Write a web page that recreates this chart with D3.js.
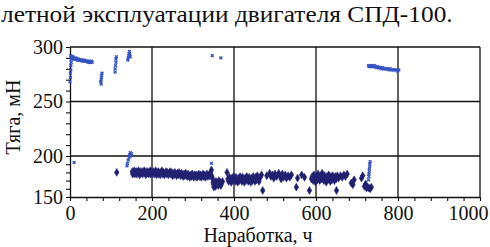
<!DOCTYPE html>
<html>
<head>
<meta charset="utf-8">
<script src="https://cdn.jsdelivr.net/npm/d3@7"></script>
<style>
  body { margin: 0; background: #fff; }
</style>
</head>
<body>
<script>
// tick values
const xTicks = [0, 200, 400, 600, 800, 1000];
const yTicks = [150, 200, 250, 300];

// light blue crosses: [hours, thrust mN]
const blueMarks = [
    [0, 268], [1, 272], [1, 276], [2, 279], [2, 283], [3, 286], [3, 289], [4, 291], [2, 292],
    [5, 290], [6, 290], [7, 291], [8, 290], [9, 290], [10, 289], [12, 289], [13, 290], [14, 289],
    [16, 289], [17, 289], [18, 288], [20, 289], [21, 288], [23, 288], [24, 288], [26, 288],
    [27, 288], [29, 288], [30, 287], [32, 288], [34, 287], [35, 288], [37, 287], [39, 287],
    [40, 287], [42, 287], [44, 286], [46, 287], [48, 286], [50, 286], [52, 287], [54, 286],
    [10, 192],
    [75, 268], [76, 270], [77, 272], [77, 274], [78, 276], [76, 266],
    [110, 280], [111, 283], [112, 286], [112, 289], [113, 291], [110, 277],
    [141, 288], [142, 290], [143, 292], [144, 294], [145, 296], [146, 293], [147, 291],
    [139, 188], [140, 191], [142, 195], [144, 198], [145, 201], [147, 203], [148, 200], [150, 202],
    [347, 292], [368, 290], [345, 191],
    [728, 283], [730, 282], [732, 283], [734, 282], [736, 283], [738, 282], [740, 282], [742, 283],
    [744, 282], [746, 282], [748, 281], [750, 282], [752, 281], [754, 281], [756, 281], [758, 281],
    [760, 280], [763, 281], [766, 280], [769, 280], [772, 280], [775, 280], [778, 279], [781, 280],
    [784, 279], [787, 279], [790, 279], [793, 279], [796, 279], [799, 278], [802, 279],
    [728, 171], [729, 175], [729, 178], [730, 181], [730, 184], [731, 187], [731, 190], [732, 193]
];

// dark navy diamonds: [hours, thrust mN]
const navyMarks = [
    [114, 180],
    [152, 181], [153, 178], [155, 180], [157, 182], [158, 178], [160, 180], [162, 181], [163, 178],
    [165, 180], [167, 182], [169, 179], [170, 177], [172, 181], [174, 179], [176, 181], [177, 178],
    [179, 180], [181, 182], [183, 179], [185, 177], [186, 181], [188, 179], [190, 181], [192, 178],
    [194, 180], [196, 182], [197, 178], [199, 180], [201, 179], [203, 181], [205, 178], [207, 180],
    [209, 182], [211, 177], [213, 180], [215, 178], [216, 181], [218, 179], [220, 177], [222, 180],
    [224, 182], [226, 178], [228, 180], [230, 177], [232, 179], [234, 181], [236, 178], [238, 180],
    [240, 177], [242, 179], [244, 181], [246, 178], [248, 180], [250, 176], [252, 179], [254, 177],
    [256, 180], [258, 178], [260, 176], [262, 179], [264, 177], [266, 180], [268, 178], [270, 176],
    [272, 179], [274, 177], [276, 175], [278, 178], [280, 176], [282, 179], [284, 177], [286, 175],
    [288, 178], [290, 176], [292, 174], [294, 177], [296, 175], [298, 178], [300, 176], [302, 174],
    [304, 177], [306, 175], [308, 177], [310, 174], [312, 176], [314, 178], [316, 175], [318, 177],
    [320, 174], [322, 176], [324, 178], [326, 175], [328, 177], [330, 174], [332, 176], [334, 178],
    [336, 175], [338, 177], [340, 176], [342, 179], [344, 177], [345, 183], [346, 175],
    [348, 172], [349, 168], [350, 165], [351, 162], [353, 166], [355, 163], [356, 169], [358, 165],
    [360, 167], [362, 164], [363, 170], [365, 166], [367, 168], [368, 164], [370, 167], [372, 169],
    [383, 180],
    [385, 172], [387, 169], [389, 174], [391, 171], [393, 168], [395, 173], [397, 170], [399, 175],
    [401, 172], [403, 169], [405, 174], [407, 171], [409, 168], [411, 173], [413, 170], [415, 175],
    [417, 172], [419, 169], [421, 174], [423, 171], [425, 168], [427, 173], [429, 170], [431, 175],
    [433, 172], [435, 169], [437, 174], [439, 171], [441, 168], [443, 173], [445, 170], [447, 175],
    [449, 172], [451, 169], [453, 174], [455, 171], [457, 176], [459, 172], [461, 169], [464, 174],
    [467, 177], [470, 158],
    [480, 176], [487, 179], [490, 175], [494, 177], [497, 173], [500, 178], [504, 175],
    [509, 179], [512, 176], [515, 172], [518, 178], [521, 174], [525, 177], [528, 173], [532, 176],
    [536, 174], [540, 177],
    [552, 162], [555, 173], [565, 177], [572, 174], [584, 158],
    [589, 172], [591, 175], [593, 170], [595, 177], [597, 173], [599, 168], [601, 175], [603, 171],
    [605, 178], [607, 174], [609, 170], [611, 176], [613, 172], [615, 179], [617, 174], [619, 170],
    [621, 176], [623, 172], [625, 168], [627, 175], [629, 171], [631, 177], [633, 173], [635, 169],
    [637, 175], [639, 171], [641, 176], [643, 173], [645, 170], [647, 175], [649, 172], [650, 158],
    [652, 176], [655, 173],
    [660, 176], [664, 174], [668, 177], [672, 175], [676, 178],
    [686, 167], [690, 165], [693, 171], [711, 173], [714, 176], [718, 163], [721, 166], [723, 161],
    [726, 162], [729, 161], [732, 160], [735, 162]
];

const width = 490, height = 247;
const plot = {left: 70, right: 480, top: 47, bottom: 197};

function serifText(sel, size) {
    return sel.style("font-family", '"Liberation Serif", "DejaVu Serif"')
        .attr("font-size", size)
        .attr("fill", "#111");
}

const svg = d3.select("body").append("svg")
    .attr("width", width)
    .attr("height", height);

// the lower decade of the thrust axis is drawn compressed, as in the source
const x = d3.scaleLinear().domain([0, 1000]).range([plot.left, plot.right]);
const y = d3.scaleLinear().domain([150, 200, 300]).range([plot.bottom, 156, plot.top]);

// caption fragment, widened to the book face of the source
const caption = svg.append("text")
    .text("летной эксплуатации двигателя СПД-100.")
    .call(serifText, 23)
const captionLen = caption.node().getComputedTextLength();
caption.attr("transform", `translate(1,22) scale(${452 / captionLen},1)`);

// grid
svg.append("g").selectAll("line")
    .data(xTicks.slice(1))
    .enter().append("line")
    .attr("x1", d => x(d)).attr("x2", d => x(d))
    .attr("y1", plot.top).attr("y2", plot.bottom)
    .attr("stroke", "#111").attr("stroke-width", 1.3)

svg.append("g").selectAll("line")
    .data(yTicks.slice(1))
    .enter().append("line")
    .attr("x1", plot.left).attr("x2", plot.right)
    .attr("y1", d => y(d)).attr("y2", d => y(d))
    .attr("stroke", "#111").attr("stroke-width", 1.3)

// axes with minor ticks
const xAxis = d3.axisBottom(x)
    .tickValues(d3.range(0, 1001, 40))
    .tickSize(4)
    .tickSizeOuter(0)
    .tickFormat(d => xTicks.includes(d) ? d : "");

const yAxis = d3.axisLeft(y)
    .tickValues(d3.range(150, 301, 10))
    .tickSize(4)
    .tickSizeOuter(0)
    .tickFormat(d => yTicks.includes(d) ? d : "");

const gx = svg.append("g").attr("transform", `translate(0,${plot.bottom})`).call(xAxis);
const gy = svg.append("g").attr("transform", `translate(${plot.left},0)`).call(yAxis);

[gx, gy].forEach(g => {
    g.attr("font-family", null).attr("font-size", null);
    g.select(".domain").attr("stroke", "#111").attr("stroke-width", 1.3);
    g.selectAll(".tick line").attr("stroke", "#111").attr("stroke-width", 1.1);
    g.selectAll(".tick text").call(serifText, 20);
});
gx.selectAll(".tick text").attr("y", 9).attr("dy", "0.71em");
// last label is pulled inside the window
gx.selectAll(".tick text").filter(d => d === 1000).attr("text-anchor", "end").attr("x", 8);
gy.selectAll(".tick text").attr("x", -7);

// axis titles
svg.append("text")
    .text("Наработка, ч")
    .attr("x", 258)
    .attr("y", 242)
    .attr("text-anchor", "middle")
    .call(serifText, 20)

svg.append("text")
    .text("Тяга, мН")
    .attr("transform", "translate(20,117) rotate(-90)")
    .attr("text-anchor", "middle")
    .call(serifText, 20)

// marks
const diamond = d3.symbol().type(d3.symbolDiamond).size(18);
const cross = d3.symbol().type(d3.symbolCross).size(9);

svg.append("g").selectAll("path")
    .data(navyMarks)
    .enter().append("path")
    .attr("d", diamond)
    .attr("transform", d => `translate(${x(d[0])},${y(d[1])})`)
    .attr("fill", "#1c1c68")
    .attr("stroke", "#2c2c80")
    .attr("stroke-width", 0.6)

svg.append("g").selectAll("path")
    .data(blueMarks)
    .enter().append("path")
    .attr("d", cross)
    .attr("transform", d => `translate(${x(d[0])},${y(d[1])}) rotate(45)`)
    .attr("fill", "#3553c4")
</script>
</body>
</html>
